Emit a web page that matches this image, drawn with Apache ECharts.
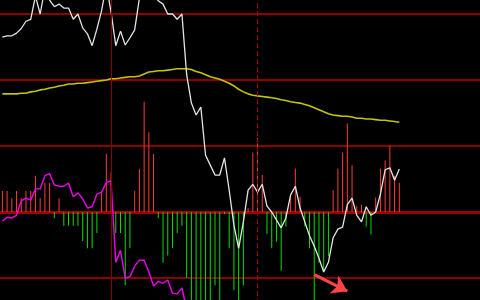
<!DOCTYPE html>
<html>
<head>
<meta charset="utf-8">
<style>
html,body{margin:0;padding:0;background:#000;overflow:hidden;width:480px;height:300px;}
#chart{position:absolute;left:0;top:-52px;width:482px;height:396px;}
</style>
<script src="https://cdn.jsdelivr.net/npm/echarts@6/dist/echarts.min.js"></script>
</head>
<body>
<div id="chart"></div>
<script>
// Category slots (102 slots, 85 filled with data)
const categories = Array.from({length: 102}, (_, i) => String(i));

// Y ticks (grid lines)
const yTicks = { min: -20, max: 40, interval: 10 };

// Price line (white)
const priceLine = [26.5,26.7,26.7,27.1,27.8,28.9,29.2,32.7,30.0,33.9,
  32.1,31.1,31.5,30.9,30.9,29.2,30.0,27.9,27.0,25.2,
  27.7,30.5,34.4,30.3,25.2,27.4,25.3,26.4,27.6,32.4,
  34.4,33.6,32.9,32.0,31.5,30.0,30.0,29.2,30.0,20.8,
  16.5,14.7,15.9,8.6,7.1,5.6,5.6,8.2,3.3,-2.0,
  -5.5,-1.5,3.3,4.2,3.0,4.2,0.9,0.0,-1.2,-2.4,
  -0.9,2.6,3.9,0.6,-1.5,-3.6,-5.2,-7.0,-9.1,-7.6,
  -3.9,-2.6,-2.3,1.1,2.1,-0.5,-1.5,0.8,-0.5,0.0,
  2.7,6.4,6.7,4.8,6.5];

// Moving average (yellow)
const maLine = [17.9,17.9,17.9,17.9,18.0,18.0,18.2,18.3,18.5,18.6,
  18.8,18.9,19.1,19.2,19.4,19.4,19.5,19.5,19.6,19.7,
  19.8,19.9,20.0,20.2,20.2,20.3,20.4,20.5,20.5,20.6,
  20.9,21.2,21.3,21.4,21.4,21.5,21.6,21.7,21.7,21.7,
  21.6,21.3,21.1,20.8,20.5,20.3,20.1,19.8,19.5,19.1,
  18.6,18.2,17.9,17.7,17.6,17.5,17.4,17.3,17.2,17.0,
  16.9,16.7,16.6,16.5,16.3,16.1,15.8,15.5,15.2,14.9,
  14.7,14.6,14.5,14.5,14.4,14.2,14.2,14.1,14.1,14.0,
  13.9,13.9,13.8,13.7,13.6];

// Indicator line (magenta)
const magentaLine = [-1.4,-0.8,-0.9,-0.5,1.7,2.1,1.8,3.5,3.5,5.5,
  5.8,4.1,3.9,3.9,4.4,2.3,2.9,2.0,0.6,0.8,
  2.7,3.0,4.5,4.7,-7.6,-5.8,-10.0,-9.8,-8.2,-7.3,
  -7.3,-9.1,-11.2,-10.5,-10.8,-10.3,-12.3,-12.4,-11.5,-14.8];

// Histogram bars (red positive / green negative)
const histBars = [3.2,3.2,2.1,3.2,2.1,3.2,3.2,5.5,2.1,4.4,
  4.4,-0.9,2.1,-2.1,-2.1,-2.1,-2.1,-4.4,-5.5,-5.5,
  -3.2,3.2,8.8,6.1,-3.2,-3.2,-11.1,-5.5,3.2,6.5,
  16.7,12.1,8.8,-0.9,-7.7,-6.6,-5.5,-3.2,-2.1,-10.0,
  -16.5,-17.0,-16.0,-16.8,-15.5,-11.1,-16.0,-0.3,-5.5,-11.8,
  -16.5,-11.1,0.6,9.0,11.2,5.6,-3.3,-5.5,-4.5,-8.9,
  -2.2,2.4,6.6,2.3,-2.2,-5.5,-16.0,-7.7,-8.9,-6.7,
  3.3,6.6,9.0,13.4,7.1,0.9,1.1,-2.2,-3.4,2.2,
  6.6,7.8,10.0,5.5,4.4];

// Vertical marker lines (category indices)
const solidMarker = '23';
const dashedMarker = '54';
// Arrow annotation (start / end in data coords)
const arrowFrom = ['66', -9.5];
const arrowTo = ['73', -12.0];

const chart = echarts.init(document.getElementById('chart'), null, {renderer: 'canvas'});
chart.setOption({
  backgroundColor: '#000000',
  animation: false,
  grid: { left: 0, right: 0, top: 0, bottom: 0, containLabel: false },
  xAxis: {
    type: 'category',
    data: categories,
    boundaryGap: true,
    axisTick: { show: false },
    axisLabel: { show: false },
    axisLine: { show: true, onZero: true, lineStyle: { color: '#a00000', width: 3 } },
    splitLine: { show: false }
  },
  yAxis: {
    type: 'value',
    min: yTicks.min, max: yTicks.max, interval: yTicks.interval,
    axisLabel: { show: false },
    axisTick: { show: false },
    axisLine: { show: false },
    splitLine: { show: true, lineStyle: { color: '#8c0000', width: 2 } }
  },
  series: [
    {
      name: 'hist', type: 'bar', data: histBars, barWidth: 1,
      itemStyle: { color: p => p.value >= 0 ? '#ff3a3a' : '#00e000' },
      markLine: {
        silent: true, symbol: 'none', label: { show: false },
        data: [
          { xAxis: solidMarker, lineStyle: { color: '#8c0000', width: 1, type: 'solid' } },
          { xAxis: dashedMarker, lineStyle: { color: '#a00000', width: 1, type: [5, 3] } }
        ]
      },
      z: 2
    },
    {
      name: 'ma', type: 'line', data: maLine, symbol: 'none', smooth: false,
      lineStyle: { color: '#c4c400', width: 1.6 }, z: 3
    },
    {
      name: 'magenta', type: 'line', data: magentaLine, symbol: 'none',
      lineStyle: { color: '#ee00ee', width: 1.4 }, z: 3
    },
    {
      name: 'price', type: 'line', data: priceLine, symbol: 'none',
      lineStyle: { color: '#e4e4e4', width: 1.3 }, z: 4,
      markLine: {
        silent: true, label: { show: false },
        symbol: ['none', 'arrow'], symbolSize: 15,
        lineStyle: { color: '#ff4545', width: 3, type: 'solid' },
        data: [[{ coord: arrowFrom }, { coord: arrowTo }]]
      }
    }
  ]
});
</script>
</body>
</html>
